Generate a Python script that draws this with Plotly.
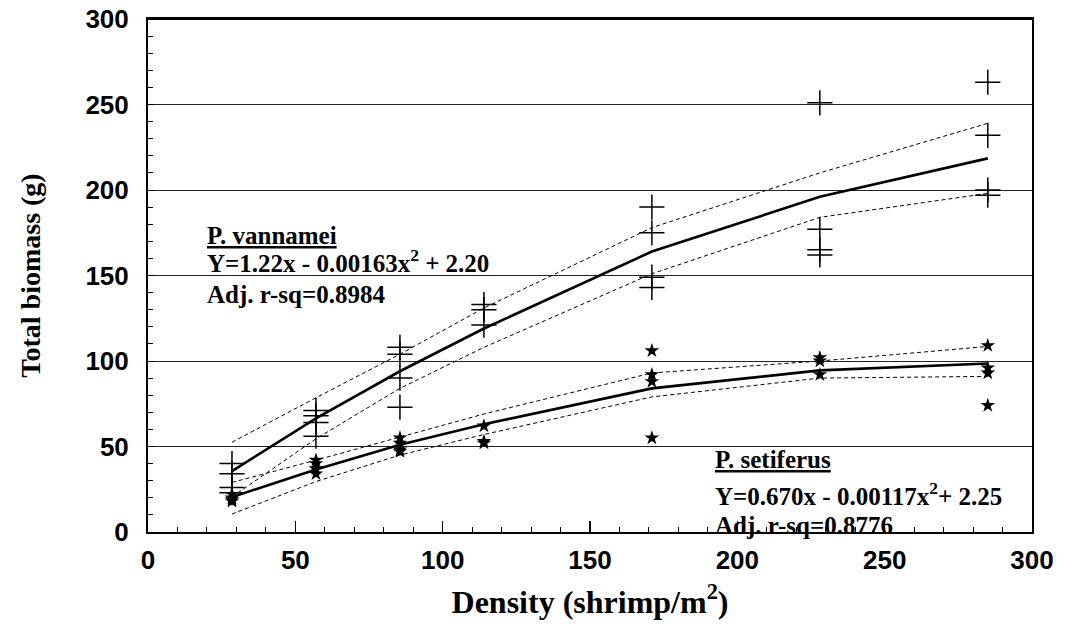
import plotly.graph_objects as go

# ---- data ----
density = [28.5, 57, 85.5, 114, 171, 228, 285]

van_x = [28.5, 28.5, 28.5, 28.5, 57, 57, 57, 57, 85.5, 85.5, 85.5, 85.5,
         114, 114, 114, 171, 171, 171, 171, 228, 228, 228, 228, 285, 285, 285, 285]
van_y = [40, 34, 26, 23, 71, 68, 64, 56, 108, 104, 90, 73,
         133, 130, 121, 190, 175, 149, 143, 251, 177, 165, 162, 263, 232, 200, 197]

set_x = [28.5, 28.5, 28.5, 28.5, 57, 57, 57, 57, 85.5, 85.5, 85.5, 85.5,
         114, 114, 114, 171, 171, 171, 171, 228, 228, 228, 285, 285, 285, 285]
set_y = [22, 20, 19, 18, 42, 40, 37, 34, 55, 52, 48, 47,
         62, 53, 52, 106, 92, 88, 55, 102, 100, 92, 109, 96, 93, 74]

van_fit = [35.6, 66.4, 94, 119, 164, 196, 218.5]
van_upper = [52.5, 78.5, 104, 131, 178, 210, 239]
van_lower = [20.5, 54.5, 84, 108, 151, 184, 198]

set_fit = [20.4, 36.6, 51, 63, 84, 94.5, 98.5]
set_upper = [29, 42, 55.5, 69, 93, 100, 108.5]
set_lower = [10.5, 29.5, 45, 57, 79, 90, 91]

x_ticks = [0, 50, 100, 150, 200, 250, 300]
y_ticks = [0, 50, 100, 150, 200, 250, 300]

SERIF = "Liberation Serif, Times New Roman, serif"
SANS = "Liberation Sans, Arial, sans-serif"

fig = go.Figure()

# confidence bands (dashed)
for band in (van_upper, van_lower, set_upper, set_lower):
    fig.add_trace(go.Scatter(x=density, y=band, mode="lines",
                             line=dict(color="black", width=1, dash="4px,3px"),
                             hoverinfo="skip", showlegend=False))

# fitted curves
for fit in (van_fit, set_fit):
    fig.add_trace(go.Scatter(x=density, y=fit, mode="lines",
                             line=dict(color="black", width=2.6),
                             showlegend=False))

# observations
fig.add_trace(go.Scatter(x=van_x, y=van_y, mode="markers",
                         marker=dict(symbol="cross-thin-open", size=18, color="black",
                                     line=dict(color="black", width=1.5)),
                         showlegend=False))
fig.add_trace(go.Scatter(x=set_x, y=set_y, mode="markers",
                         marker=dict(symbol="star", size=11, color="black",
                                     line=dict(width=0)),
                         showlegend=False))

ann_font = dict(family=SERIF, size=25, color="black")
annotations = [
    dict(x=19.3, y=173.5, text="<b><u>P. vannamei</u></b>"),
    dict(x=19.3, y=158.5, text="<b>Y=1.22x - 0.00163x<sup>2</sup> + 2.20</b>"),
    dict(x=19.3, y=139, text="<b>Adj. r-sq=0.8984</b>"),
    dict(x=191.7, y=42.5, text="<b><u>P. setiferus</u></b>"),
    dict(x=191.7, y=22, text="<b>Y=0.670x - 0.00117x<sup>2</sup>+ 2.25</b>"),
    dict(x=191.7, y=4, text="<b>Adj. r-sq=0.8776</b>"),
]
for a in annotations:
    a.update(xref="x", yref="y", xanchor="left", yanchor="middle",
             showarrow=False, font=ann_font)

fig.update_layout(
    width=1067, height=635,
    margin=dict(l=148, r=35, t=19, b=103, autoexpand=False),
    paper_bgcolor="white", plot_bgcolor="white",
    annotations=annotations,
    showlegend=False, hovermode=False,
)

fig.update_xaxes(
    range=[0, 300], tickvals=x_ticks, ticktext=[str(v) for v in x_ticks],
    showgrid=False, zeroline=False, automargin=False,
    showline=True, linecolor="black", linewidth=2, mirror=True,
    ticks="inside", ticklen=11, tickwidth=1.2, tickcolor="black",
    minor=dict(dtick=10, ticks="inside", ticklen=5, tickwidth=1, tickcolor="black"),
    tickfont=dict(family=SANS, size=26, color="black", weight="bold"),
    ticklabelstandoff=4, ticklabeloverflow="allow",
    title=dict(text="<b>Density (shrimp/m<sup>2</sup>)</b>",
               font=dict(family=SERIF, size=32, color="black"), standoff=16),
)
fig.update_yaxes(
    range=[0, 300], tickvals=y_ticks, ticktext=[str(v) for v in y_ticks],
    showgrid=True, gridcolor="#222", gridwidth=1, zeroline=False, automargin=False,
    showline=True, linecolor="black", linewidth=2, mirror=True,
    ticks="inside", ticklen=6, tickwidth=1, tickcolor="black",
    minor=dict(dtick=10, ticks="inside", ticklen=5, tickwidth=1, tickcolor="black"),
    tickfont=dict(family=SANS, size=26, color="black", weight="bold"),
    ticklabelstandoff=12, ticklabeloverflow="allow",
    title=dict(text="<b>Total biomass (g)</b>",
               font=dict(family=SERIF, size=28, color="black"), standoff=37),
)

fig.add_shape(type="line", xref="paper", yref="paper", x0=0, x1=1, y0=1, y1=1,
              line=dict(color="black", width=2), layer="above")

# remove the browser's default page margin so the figure sits at the window origin
fig.write_html("out.html", config={"displayModeBar": False, "staticPlot": True},
               post_script="document.body.style.margin='0';")
